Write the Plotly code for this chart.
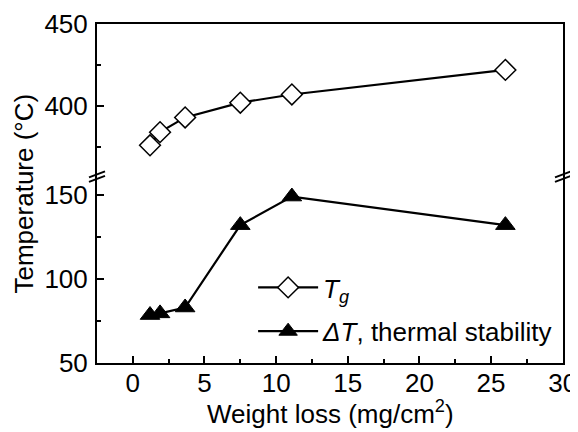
import plotly.graph_objects as go

weight_loss = [1.2, 1.9, 3.65, 7.5, 11.1, 26.0]
tg_values = [376, 384, 393, 402, 407, 422]
dt_values = [78.5, 79.5, 83, 132, 149, 132]

x_ticks = [0, 5, 10, 15, 20, 25, 30]
lower_ticks = [50, 100, 150]
upper_ticks = [400, 450]

FONT = "Liberation Sans, Arial, sans-serif"
FS = 26
BREAK = 0.549

fig = go.Figure()
fig.add_trace(go.Scatter(
    x=weight_loss, y=tg_values, xaxis="x2", yaxis="y2",
    mode="lines+markers", name="<i>T</i><sub><i>g</i></sub>",
    legendgroup="a",
    line=dict(color="black", width=2.2),
    marker=dict(symbol="diamond", size=16, color="white",
                line=dict(color="black", width=1.5)),
))
fig.add_trace(go.Scatter(
    x=weight_loss, y=dt_values, xaxis="x", yaxis="y",
    mode="lines+markers", name="<i>ΔT</i>, thermal stability",
    legendgroup="b",
    line=dict(color="black", width=2.2),
    marker=dict(symbol="triangle-up", size=17, color="black",
                line=dict(color="black", width=1)),
))

axis_common = dict(showline=True, linecolor="black", linewidth=2,
                   showgrid=False, zeroline=False, automargin=False,
                   tickfont=dict(family=FONT, size=FS, color="black"),
                   ticks="inside", ticklen=7, tickwidth=2, tickcolor="black")

# the page body has an 8px margin, so the figure is sized and placed for it
fig.update_layout(
    width=570, height=424,
    margin=dict(l=89, r=15, t=16, b=69, autoexpand=False),
    paper_bgcolor="white", plot_bgcolor="white",
    font=dict(family=FONT, size=FS, color="black"),
    showlegend=True,
    legend=dict(x=0.335, y=0.292, xanchor="left", yanchor="top",
                bgcolor="rgba(0,0,0,0)", font=dict(family=FONT, size=FS),
                itemwidth=60, tracegroupgap=7),
    xaxis=dict(**axis_common, range=[-2.5, 30.02], anchor="y",
               tickvals=x_ticks, ticklabelstandoff=-4,
               minor=dict(ticks="inside", ticklen=4, tickwidth=2, dtick=2.5,
                          tick0=0, tickcolor="black")),
    xaxis2=dict(showline=True, linecolor="black", linewidth=2, matches="x",
                anchor="y2", side="top", showticklabels=False, ticks="",
                showgrid=False, zeroline=False, automargin=False),
    yaxis=dict(**axis_common, domain=[0, BREAK], range=[49.98, 160.7],
               anchor="x", mirror=True, tickvals=lower_ticks,
               ticklabelstandoff=2,
               minor=dict(ticks="inside", ticklen=4, tickwidth=2, dtick=25,
                          tick0=50, tickcolor="black")),
    yaxis2=dict(**axis_common, domain=[BREAK, 1], range=[356.7, 450.02],
                anchor="x2", mirror=True, tickvals=upper_ticks,
                ticklabelstandoff=2,
                minor=dict(ticks="inside", ticklen=4, tickwidth=2, dtick=25,
                           tick0=350, tickcolor="black")),
)

fig.add_annotation(text="Temperature (°C)", xref="paper", yref="paper",
                   x=0, y=0.5, xanchor="center", yanchor="middle",
                   xshift=-74, textangle=-90, showarrow=False,
                   font=dict(family=FONT, size=FS, color="black"))
fig.add_annotation(text="Weight loss (mg/cm<sup>2</sup>)", xref="paper",
                   yref="paper", x=0.5, y=0, xanchor="center",
                   yanchor="middle", yshift=-49, showarrow=False,
                   font=dict(family=FONT, size=FS, color="black"))

for xa in (0, 1):
    for y0, y1 in ((-0.5, 5.5), (-5.0, 1.0)):
        fig.add_shape(type="line", xref="paper", yref="paper",
                      xsizemode="pixel", xanchor=xa, x0=-8, x1=8,
                      ysizemode="pixel", yanchor=BREAK, y0=y0, y1=y1,
                      line=dict(color="black", width=2))

fig.write_html("out.html")
